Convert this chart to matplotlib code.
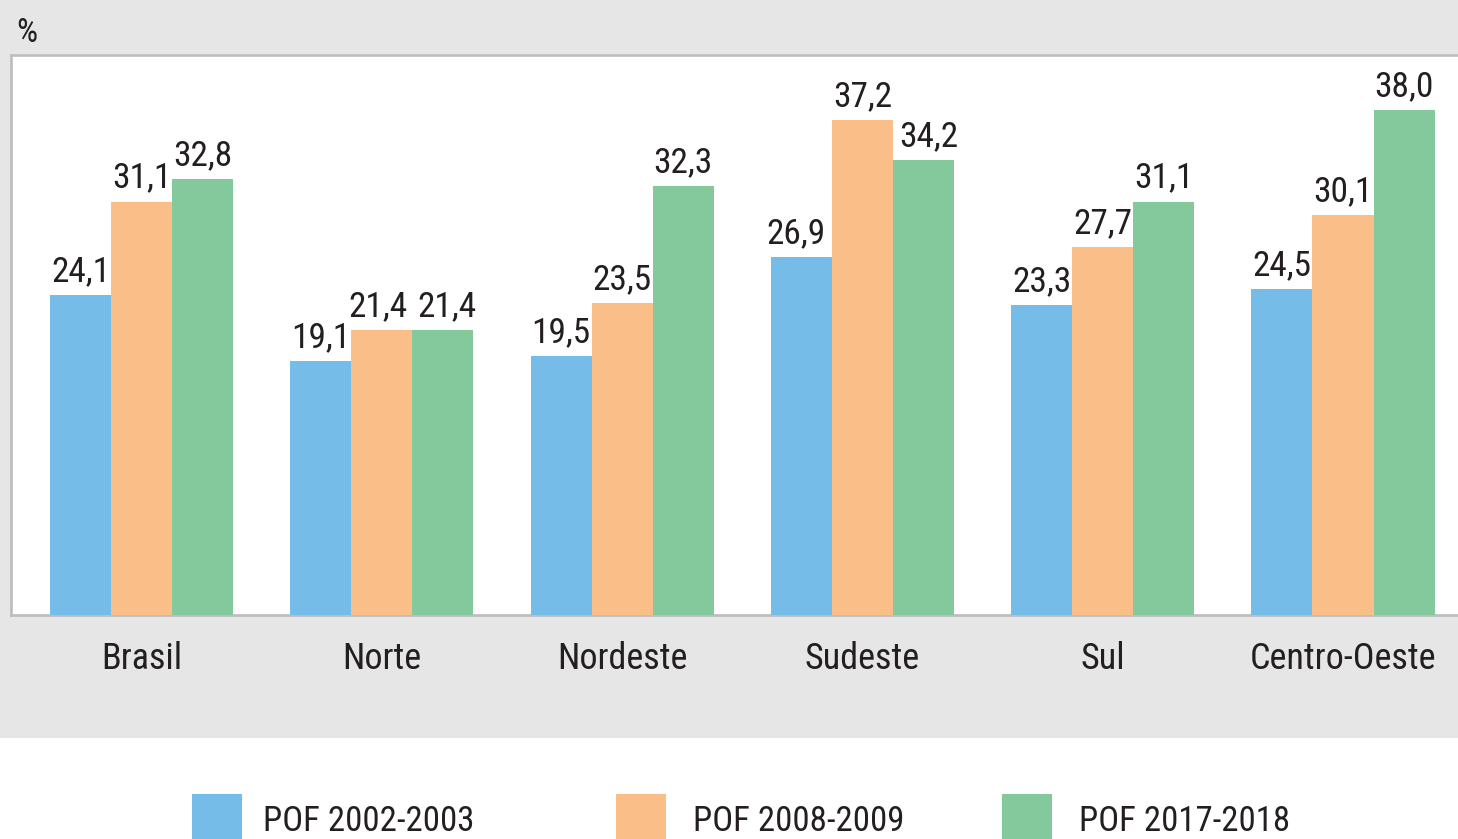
import matplotlib
matplotlib.use("Agg")
import matplotlib.pyplot as plt
from matplotlib.patches import Rectangle
from matplotlib import font_manager
import numpy as np

# ---- data ----
categories = ["Brasil", "Norte", "Nordeste", "Sudeste", "Sul", "Centro-Oeste"]
series_names = ["POF 2002-2003", "POF 2008-2009", "POF 2017-2018"]
pof_2002 = [24.1, 19.1, 19.5, 26.9, 23.3, 24.5]
pof_2008 = [31.1, 21.4, 23.5, 37.2, 27.7, 30.1]
pof_2017 = [32.8, 21.4, 32.3, 34.2, 31.1, 38.0]
unit_label = "%"

colors = ["#75BDE8", "#FABE88", "#84C99C"]
text_color = "#231F20"

avail = {f.name for f in font_manager.fontManager.ttflist}
fam = "Roboto Condensed" if "Roboto Condensed" in avail else "Liberation Sans"
plt.rcParams["font.family"] = [fam, "DejaVu Sans"]

W, H = 1458, 839
fig = plt.figure(figsize=(W / 100, H / 100), dpi=100)
fig.patch.set_facecolor("white")

# gray panel background
fig.patches.append(Rectangle((0, 1 - 738 / H), 1, 738 / H, transform=fig.transFigure,
                             facecolor="#E6E6E6", edgecolor="none", zorder=-5))

left_px, top_px, bottom_px = 11.3, 55.3, 615.0
ax = fig.add_axes([left_px / W, 1 - bottom_px / H, 1 - left_px / W, (bottom_px - top_px) / H])
ax.set_facecolor("white")

# small horizontal nudges (in points) for labels that would touch
nudge = {(1, 1): -2.5, (1, 2): 3.0, (3, 0): -4.0, (3, 2): 4.0}

x = np.arange(len(categories))
bw = 0.254
data = [pof_2002, pof_2008, pof_2017]
for i, (vals, c) in enumerate(zip(data, colors)):
    xs = x + (i - 1) * bw
    ax.bar(xs, vals, width=bw, color=c, edgecolor="none", zorder=3)
    for g, (xi, v) in enumerate(zip(xs, vals)):
        ax.annotate(f"{v:.1f}".replace(".", ","), (xi, v),
                    xytext=(nudge.get((g, i), 0), 10),
                    textcoords="offset points", ha="center", va="baseline",
                    fontsize=25.5, color=text_color, zorder=4)

px_per_unit = 240.3
x_left = (left_px - 141.5) / px_per_unit
x_right = (W - 141.5) / px_per_unit
ax.set_xlim(x_left, x_right)
ax.set_ylim(0, 42.1)

for s in ["left", "top", "bottom"]:
    ax.spines[s].set_color("#BEBEC2")
    ax.spines[s].set_linewidth(1.95)
ax.spines["right"].set_visible(False)

ax.set_yticks([])
ax.set_xticks(x)
ax.set_xticklabels(categories, fontsize=26, color=text_color)
ax.tick_params(axis="x", length=0, pad=19)

# unit label
fig.text(16 / W, 1 - 42 / H, unit_label, fontsize=24, color=text_color,
         ha="left", va="baseline")

# legend (manual)
sq_x = [192, 616, 1002]
txt_x = [263, 693, 1079]
for name, c, sx, tx in zip(series_names, colors, sq_x, txt_x):
    fig.patches.append(Rectangle((sx / W, -0.02), 50 / W, (839 - 794) / H + 0.02,
                                 transform=fig.transFigure, facecolor=c,
                                 edgecolor="none", zorder=1))
    fig.text(tx / W, 1 - 831 / H, name, fontsize=25, color=text_color,
             ha="left", va="baseline")

fig.savefig("out.png", dpi=100, facecolor=fig.get_facecolor())
